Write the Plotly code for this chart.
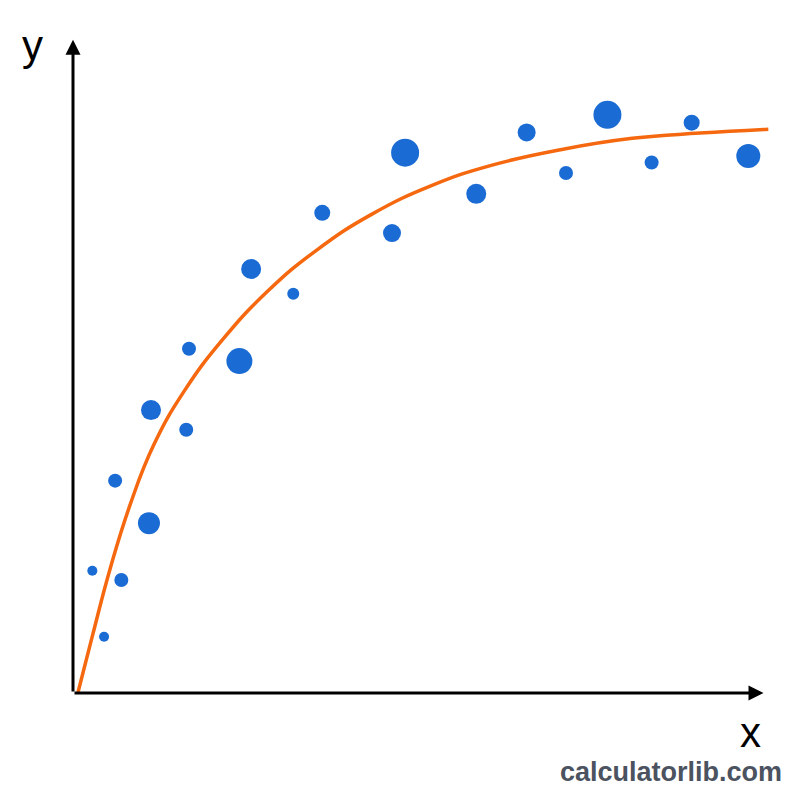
import plotly.graph_objects as go

# Observed data points
pts_x = [0.28, 0.45, 0.61, 0.70, 1.10, 1.13, 1.64, 1.68, 2.41, 2.58, 3.19,
         3.61, 4.62, 4.81, 5.84, 6.57, 7.14, 7.74, 8.38, 8.96, 9.78]
pts_y = [1.87, 0.86, 3.25, 1.73, 2.60, 4.33, 4.03, 5.27, 5.08, 6.49, 6.11,
         7.35, 7.04, 8.27, 7.64, 8.58, 7.96, 8.85, 8.12, 8.73, 8.22]
pts_size = [10, 10, 14, 14, 22, 20, 14, 14, 26, 20, 12,
            16, 18, 28, 20, 18, 14, 28, 14, 16, 24]

# Fitted curve
fit_x = [0.07, 0.28, 0.54, 0.83, 1.17, 1.61, 2.16, 2.81, 3.53, 4.33, 5.20,
         6.07, 7.08, 8.10, 9.08, 10.07]
fit_y = [0.00, 0.87, 1.91, 2.89, 3.80, 4.62, 5.40, 6.14, 6.78, 7.33, 7.77,
         8.08, 8.32, 8.49, 8.57, 8.63]

BLUE = "#1a6cd4"
ORANGE = "#f5680f"

fig = go.Figure()
fig.add_trace(go.Scatter(x=pts_x, y=pts_y, mode="markers",
                         marker=dict(size=pts_size, color=BLUE, opacity=1,
                                     line=dict(width=0)),
                         hoverinfo="skip", showlegend=False))
fig.add_trace(go.Scatter(x=fit_x, y=fit_y, mode="lines",
                         line=dict(color=ORANGE, width=3.5, shape="spline", smoothing=1.3),
                         hoverinfo="skip", showlegend=False, cliponaxis=False))

FONT = "Liberation Sans, Arial, sans-serif"
annotations = [
    # axes arrows
    dict(x=10, y=0, ax=0, ay=0, xref="x", yref="y", axref="x", ayref="y",
         showarrow=True, arrowhead=2, arrowsize=1.0, arrowwidth=3,
         arrowcolor="black", text=""),
    dict(x=0, y=10, ax=0, ay=0, xref="x", yref="y", axref="x", ayref="y",
         showarrow=True, arrowhead=2, arrowsize=1.0, arrowwidth=3,
         arrowcolor="black", text=""),
    dict(x=-0.0552, y=0.944, xref="paper", yref="paper", text="y", showarrow=False,
         xanchor="center", yanchor="middle",
         font=dict(family=FONT, size=42, color="black")),
    dict(x=0.934, y=-0.058, xref="paper", yref="paper", text="x", showarrow=False,
         xanchor="center", yanchor="middle",
         font=dict(family=FONT, size=42, color="black")),
    dict(x=0.980, y=-0.115, xref="paper", yref="paper", text="<b>calculatorlib.com</b>",
         showarrow=False, xanchor="right", yanchor="middle",
         font=dict(family=FONT, size=27, color="#4b5260")),
]

fig.update_layout(
    width=800, height=800,
    margin=dict(l=73, r=2, t=7, b=107),
    paper_bgcolor="white", plot_bgcolor="white",
    xaxis=dict(range=[0, 10.5], showgrid=False, zeroline=False, showticklabels=False,
               ticks="", showline=False),
    yaxis=dict(range=[0, 10.5], showgrid=False, zeroline=False, showticklabels=False,
               ticks="", showline=False),
    annotations=annotations,
)

fig.write_html("out.html")
